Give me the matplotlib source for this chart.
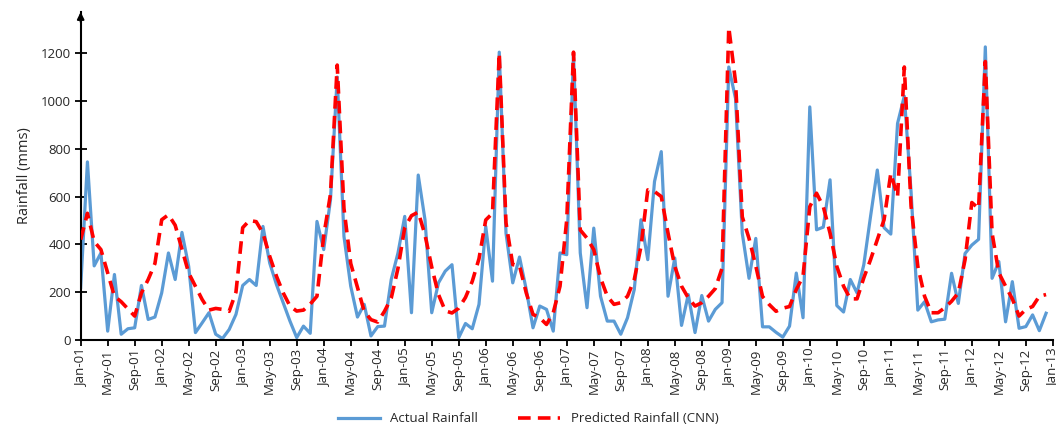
import matplotlib
matplotlib.use("Agg")
import matplotlib.pyplot as plt
import numpy as np

# Monthly data Jan-2001 .. Dec-2012
actual = [220, 745, 310, 364, 37, 274, 24, 47, 51, 228, 86, 96,
          197, 364, 253, 450, 308, 31, 72, 114, 24, 6, 44, 107,
          228, 253, 228, 475, 322, 232, 156, 79, 10, 58, 28, 496,
          378, 586, 1100, 433, 225, 96, 149, 17, 56, 58, 253, 364,
          517, 114, 690, 503, 114, 239, 288, 315, 10, 69, 47, 149,
          475, 246, 1204, 447, 239, 347, 211, 51, 142, 128, 37, 364,
          357, 1197, 364, 135, 468, 183, 79, 79, 24, 93, 211, 503,
          336, 663, 788, 183, 343, 61, 190, 31, 186, 79, 128, 156,
          1142, 1010, 446, 258, 425, 55, 55, 32, 12, 58, 280, 93,
          975, 461, 472, 670, 144, 117, 253, 197, 315, 517, 711, 470,
          443, 906, 1020, 620, 125, 160, 76, 84, 87, 279, 153, 362,
          397, 421, 1226, 258, 328, 76, 244, 49, 56, 105, 39, 112]

predicted = [420, 530, 412, 378, 280, 183, 160, 130, 100, 197, 253, 320,
             503, 524, 480, 380, 280, 225, 169, 125, 132, 128, 120, 200,
             470, 500, 495, 447, 350, 267, 197, 142, 121, 125, 150, 183,
             435, 610, 1150, 550, 320, 220, 120, 85, 75, 120, 175, 300,
             470, 520, 535, 440, 305, 190, 122, 113, 133, 178, 245, 340,
             502, 530, 1200, 490, 315, 311, 197, 107, 93, 65, 114, 225,
             503, 1204, 460, 426, 378, 260, 183, 149, 156, 183, 253, 392,
             628, 621, 600, 447, 308, 225, 176, 142, 156, 183, 215, 300,
             1308, 1080, 515, 425, 310, 182, 148, 120, 133, 140, 211, 267,
             558, 614, 558, 447, 308, 225, 172, 172, 260, 336, 420, 503,
             697, 600, 1142, 560, 308, 183, 114, 114, 135, 162, 197, 336,
             575, 550, 1165, 447, 281, 225, 172, 100, 128, 140, 183, 190]

tick_labels = ["Jan-01", "May-01", "Sep-01", "Jan-02", "May-02", "Sep-02",
               "Jan-03", "May-03", "Sep-03", "Jan-04", "May-04", "Sep-04",
               "Jan-05", "May-05", "Sep-05", "Jan-06", "May-06", "Sep-06",
               "Jan-07", "May-07", "Sep-07", "Jan-08", "May-08", "Sep-08",
               "Jan-09", "May-09", "Sep-09", "Jan-10", "May-10", "Sep-10",
               "Jan-11", "May-11", "Sep-11", "Jan-12", "May-12", "Sep-12",
               "Jan-13"]
y_ticks = [0, 200, 400, 600, 800, 1000, 1200]

plt.rcParams['font.family'] = ['Open Sans', 'DejaVu Sans']

fig = plt.figure(figsize=(10.56, 4.37), dpi=100)
ax = fig.add_axes([0.0764, 0.222, 0.9206, 0.7505])

months = np.arange(len(actual))
ax.plot(months, actual, color='#5B9BD5', lw=2.3, label='Actual Rainfall',
        solid_joinstyle='round', zorder=2)
ax.plot(months, predicted, color='#FF0000', lw=2.6, ls=(0, (3.5, 2.0)),
        dash_capstyle='butt', label='Predicted Rainfall (CNN)', zorder=3)

ax.set_xlim(0, 144)
ax.set_ylim(0, 1372)
ax.set_xticks(np.arange(0, 145, 4))
ax.set_xticklabels(tick_labels, rotation=90, fontsize=9.5, color='#262626')
ax.set_yticks(y_ticks)
ax.set_yticklabels([str(v) for v in y_ticks], fontsize=9.5, color='#262626')
ax.tick_params(axis='y', direction='inout', length=8, width=1.3, pad=3)
ax.tick_params(axis='x', direction='out', length=4, width=1.3, pad=2)

for s in ['top', 'right']:
    ax.spines[s].set_visible(False)
for s in ['left', 'bottom']:
    ax.spines[s].set_linewidth(1.5)
    ax.spines[s].set_color('black')

# arrow head at top of y axis
ax.annotate('', xy=(0, 1.0), xytext=(0, 0.97), xycoords='axes fraction',
            arrowprops=dict(arrowstyle='-|>', color='black', lw=1.5,
                            mutation_scale=10, shrinkA=0, shrinkB=0))

ax.set_ylabel('Rainfall (mms)', fontsize=10.5, color='#262626', labelpad=6)

ax.legend(loc='lower center', bbox_to_anchor=(0.5, 0.0), ncol=2,
          frameon=False, fontsize=9.5, handlelength=3.2, columnspacing=3.0,
          bbox_transform=fig.transFigure, labelcolor='#262626')

fig.savefig('out.png', dpi=100)
